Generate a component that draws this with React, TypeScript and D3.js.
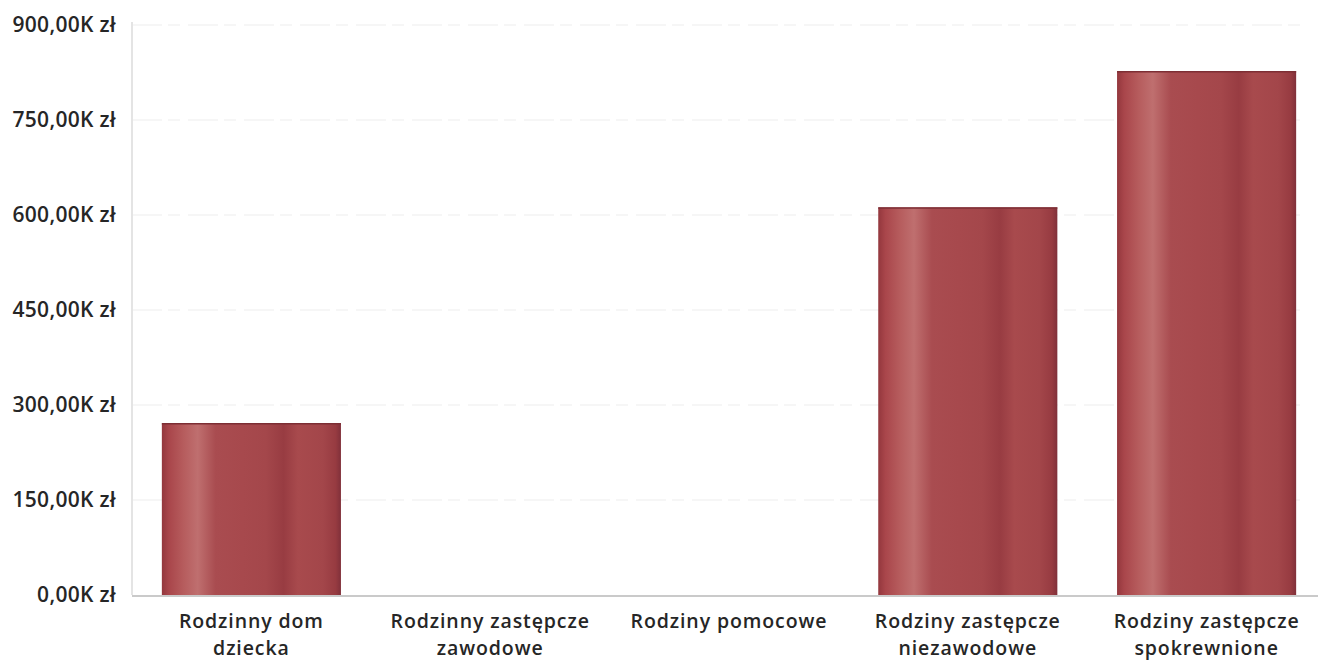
import React from "react";
import * as d3 from "d3";

const categories: string[][] = [
  ["Rodzinny dom", "dziecka"],
  ["Rodzinny zastępcze", "zawodowe"],
  ["Rodziny pomocowe"],
  ["Rodziny zastępcze", "niezawodowe"],
  ["Rodziny zastępcze", "spokrewnione"],
];
const values: number[] = [271000, 0, 0, 612000, 827000];
const yTicks: number[] = [0, 150000, 300000, 450000, 600000, 750000, 900000];

const W = 1318;
const H = 661;
const margin = { left: 132, right: -8, top: 25, bottom: 66 };

function fmt(v: number): string {
  return (v / 1000).toFixed(2).replace(".", ",") + "K zł";
}

export default function App() {
  const x = d3
    .scaleBand<number>()
    .domain(categories.map((_, i) => i))
    .range([margin.left, W - margin.right])
    .paddingInner(0.25)
    .paddingOuter(0.125);
  const y = d3
    .scaleLinear()
    .domain([0, 900000])
    .range([H - margin.bottom, margin.top]);
  const font = "'Open Sans', 'Noto Sans', sans-serif";
  const stops = [
    [0, "#93373d"],
    [0.04, "#a9464b"],
    [0.12, "#b65c5d"],
    [0.2, "#bf6f6f"],
    [0.3, "#a94c50"],
    [0.45, "#a7494d"],
    [0.58, "#a4474b"],
    [0.68, "#983c42"],
    [0.76, "#a84a4d"],
    [0.9, "#a3464a"],
    [0.97, "#973b41"],
    [1, "#80303a"],
  ];
  return (
    <svg
      width={W}
      height={H}
      style={{ position: "absolute", left: 0, top: 0, background: "#fff" }}
    >
      <defs>
        <linearGradient id="barGrad" x1="0" x2="1" y1="0" y2="0">
          {stops.map(([o, c], i) => (
            <stop key={i} offset={o as number} stopColor={c as string} />
          ))}
        </linearGradient>
      </defs>
      <rect x={0} y={0} width={W} height={H} fill="#fff" />
      {yTicks.map((t) => (
        <g key={t}>
          {t > 0 && (
            <line
              x1={margin.left}
              x2={W - 10}
              y1={y(t)}
              y2={y(t)}
              stroke="#f3f3f3"
              strokeWidth={1.5}
              strokeDasharray="30 6 12 8"
            />
          )}
          <text
            x={116}
            y={y(t) + 1}
            textAnchor="end"
            dominantBaseline="middle"
            fontFamily={font}
            fontSize={21}
            fontWeight={600}
            letterSpacing={0.3}
            fill="#262626"
          >
            {fmt(t)}
          </text>
        </g>
      ))}
      <line
        x1={margin.left}
        x2={margin.left}
        y1={y(900000) - 3}
        y2={y(0)}
        stroke="#e4e4e4"
        strokeWidth={2}
      />
      {values.map((v, i) =>
        v > 0 ? (
          <g key={i}>
            <rect
              x={x(i)}
              y={y(v)}
              width={x.bandwidth()}
              height={y(0) - y(v)}
              fill="url(#barGrad)"
            />
            <line
              x1={x(i)}
              x2={(x(i) as number) + x.bandwidth()}
              y1={y(v) + 0.5}
              y2={y(v) + 0.5}
              stroke="#7d2e34"
              strokeWidth={1.5}
            />
          </g>
        ) : null
      )}
      <line
        x1={margin.left}
        x2={W}
        y1={y(0) + 1}
        y2={y(0) + 1}
        stroke="#b9b9b9"
        strokeWidth={1.5}
      />
      {categories.map((lines, i) =>
        lines.map((l, j) => (
          <text
            key={i + "-" + j}
            x={(x(i) as number) + x.bandwidth() / 2}
            y={y(0) + 33 + j * 26.5}
            textAnchor="middle"
            fontFamily={font}
            fontSize={19.5}
            fontWeight={600}
            letterSpacing={0.9}
            fill="#262626"
          >
            {l}
          </text>
        ))
      )}
    </svg>
  );
}
